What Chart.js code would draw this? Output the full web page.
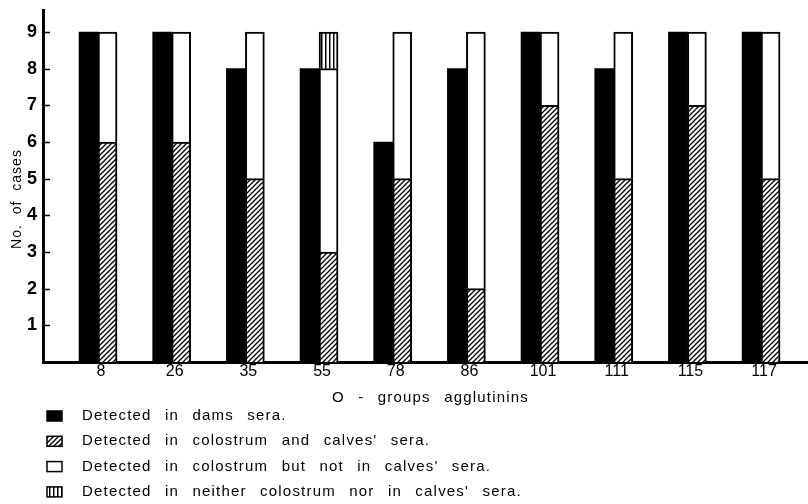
<!DOCTYPE html>
<html>
<head>
<meta charset="utf-8">
<script src="https://cdn.jsdelivr.net/npm/chart.js@4/dist/chart.umd.min.js"></script>
<style>
  html, body { margin: 0; padding: 0; background: #fff; }
  canvas { display: block; }
</style>
</head>
<body>
<canvas id="chart" width="808" height="504"></canvas>
<script>
// O-group agglutinins: number of cases per group
const categories = ['8', '26', '35', '55', '78', '86', '101', '111', '115', '117'];
const damsSera = [9, 9, 8, 8, 6, 8, 9, 8, 9, 9];
const colostrumAndCalves = [6, 6, 5, 3, 5, 2, 7, 5, 7, 5];
const colostrumOnly = [3, 3, 4, 5, 4, 7, 2, 4, 2, 4];
const neitherSera = [0, 0, 0, 1, 0, 0, 0, 0, 0, 0];
const yTickValues = [1, 2, 3, 4, 5, 6, 7, 8, 9];

const seriesLabels = [
  'Detected in dams sera.',
  "Detected in colostrum and calves' sera.",
  "Detected in colostrum but not in calves' sera.",
  "Detected in neither colostrum nor in calves' sera."
];
const xTitle = 'O - groups agglutinins';
const yTitle = 'No. of cases';

const TEXT_FONT = '"Liberation Sans", Arial, sans-serif';

// Fill patterns for the bar segments
function hatchPattern() {
  const c = document.createElement('canvas');
  c.width = 5; c.height = 5;
  const g = c.getContext('2d');
  g.fillStyle = '#fff';
  g.fillRect(0, 0, 5, 5);
  g.strokeStyle = '#000';
  g.lineWidth = 1.3;
  g.beginPath();
  g.moveTo(-1, 6); g.lineTo(6, -1);
  g.moveTo(-1, 1); g.lineTo(1, -1);
  g.moveTo(4, 6); g.lineTo(6, 4);
  g.stroke();
  return g.createPattern(c, 'repeat');
}
function stripePattern() {
  const c = document.createElement('canvas');
  c.width = 4; c.height = 4;
  const g = c.getContext('2d');
  g.fillStyle = '#fff';
  g.fillRect(0, 0, 4, 4);
  g.fillStyle = '#000';
  g.fillRect(1, 0, 1.5, 4);
  return g.createPattern(c, 'repeat');
}

const toPoints = arr => arr.map((v, i) => ({ x: i, y: v === 0 ? null : v }));

const datasets = [
  { label: seriesLabels[0], data: toPoints(damsSera), stack: 'dams',
    backgroundColor: '#000', borderColor: '#000', borderWidth: 0 },
  { label: seriesLabels[1], data: toPoints(colostrumAndCalves), stack: 'colostrum',
    backgroundColor: hatchPattern(), borderColor: '#000', borderWidth: 2 },
  { label: seriesLabels[2], data: toPoints(colostrumOnly), stack: 'colostrum',
    backgroundColor: '#fff', borderColor: '#000', borderWidth: 2 },
  { label: seriesLabels[3], data: toPoints(neitherSera), stack: 'colostrum',
    backgroundColor: stripePattern(), borderColor: '#000', borderWidth: 2 }
];

// Inward tick marks on the value axis
const innerTicks = {
  id: 'innerTicks',
  afterDraw(chart) {
    const { ctx, chartArea, scales } = chart;
    ctx.save();
    ctx.strokeStyle = '#000';
    ctx.lineWidth = 1.5;
    yTickValues.forEach(v => {
      const y = Math.round(scales.y.getPixelForValue(v)) + 0.5;
      ctx.beginPath();
      ctx.moveTo(chartArea.left, y);
      ctx.lineTo(chartArea.left + 7, y);
      ctx.stroke();
    });
    ctx.restore();
  }
};

// Axis titles and the stacked legend below the chart
const captions = {
  id: 'captions',
  afterDraw(chart) {
    const { ctx, chartArea } = chart;
    ctx.save();
    ctx.fillStyle = '#000';

    // value-axis title
    ctx.save();
    ctx.font = '14px ' + TEXT_FONT;
    ctx.letterSpacing = '1px';
    ctx.wordSpacing = '5px';
    ctx.textAlign = 'center';
    ctx.textBaseline = 'middle';
    ctx.translate(17, (chartArea.top + chartArea.bottom) / 2 + 13);
    ctx.rotate(-Math.PI / 2);
    ctx.fillText(yTitle, 0, 0);
    ctx.restore();

    // category-axis title
    ctx.font = '15px ' + TEXT_FONT;
    ctx.letterSpacing = '1.2px';
    ctx.wordSpacing = '8px';
    ctx.textAlign = 'center';
    ctx.textBaseline = 'middle';
    ctx.fillText(xTitle, (chartArea.left + chartArea.right) / 2 + 5, chartArea.bottom + 36);

    // legend
    ctx.textAlign = 'left';
    chart.data.datasets.forEach((ds, i) => {
      const cy = chartArea.bottom + 54 + i * 25.3;
      const x = chartArea.left + 4;
      ctx.fillStyle = ds.backgroundColor;
      ctx.fillRect(x, cy - 5, 15, 10);
      ctx.strokeStyle = '#000';
      ctx.lineWidth = 1.5;
      ctx.strokeRect(x, cy - 5, 15, 10);
      ctx.fillStyle = '#000';
      ctx.fillText(ds.label, x + 35, cy);
    });
    ctx.restore();
  }
};

new Chart(document.getElementById('chart'), {
  type: 'bar',
  data: { datasets },
  plugins: [innerTicks, captions],
  options: {
    responsive: false,
    animation: false,
    devicePixelRatio: 1,
    barThickness: 19,
    layout: { padding: { top: 10, right: 0, bottom: 112, left: 0 } },
    plugins: { legend: { display: false }, tooltip: { enabled: false } },
    scales: {
      x: {
        type: 'linear',
        offset: false,
        min: -0.747,
        max: 9.637,
        grid: { display: false, drawTicks: false, offset: false },
        border: { display: true, color: '#000', width: 3 },
        afterBuildTicks(scale) {
          scale.ticks = categories.map((_, i) => ({ value: i }));
        },
        afterFit(scale) {
          scale.height = 30;
          scale.paddingLeft = 0;
          scale.paddingRight = 0;
        },
        ticks: {
          autoSkip: false,
          maxRotation: 0,
          padding: 0,
          labelOffset: 3,
          color: '#000',
          font: { family: TEXT_FONT, size: 16 },
          callback: v => categories[v] ?? ''
        }
      },
      y: {
        stacked: true,
        min: 0,
        max: 9.6,
        grid: { display: false, drawTicks: false },
        border: { display: true, color: '#000', width: 3 },
        afterFit(scale) {
          scale.width = 43;
          scale.paddingTop = 0;
          scale.paddingBottom = 0;
        },
        ticks: {
          stepSize: 1,
          includeBounds: false,
          padding: 6,
          color: '#000',
          font: { family: TEXT_FONT, size: 18, weight: 'bold' },
          callback: v => (v >= 1 && Number.isInteger(v)) ? String(v) : ''
        }
      }
    }
  }
});
</script>
</body>
</html>
